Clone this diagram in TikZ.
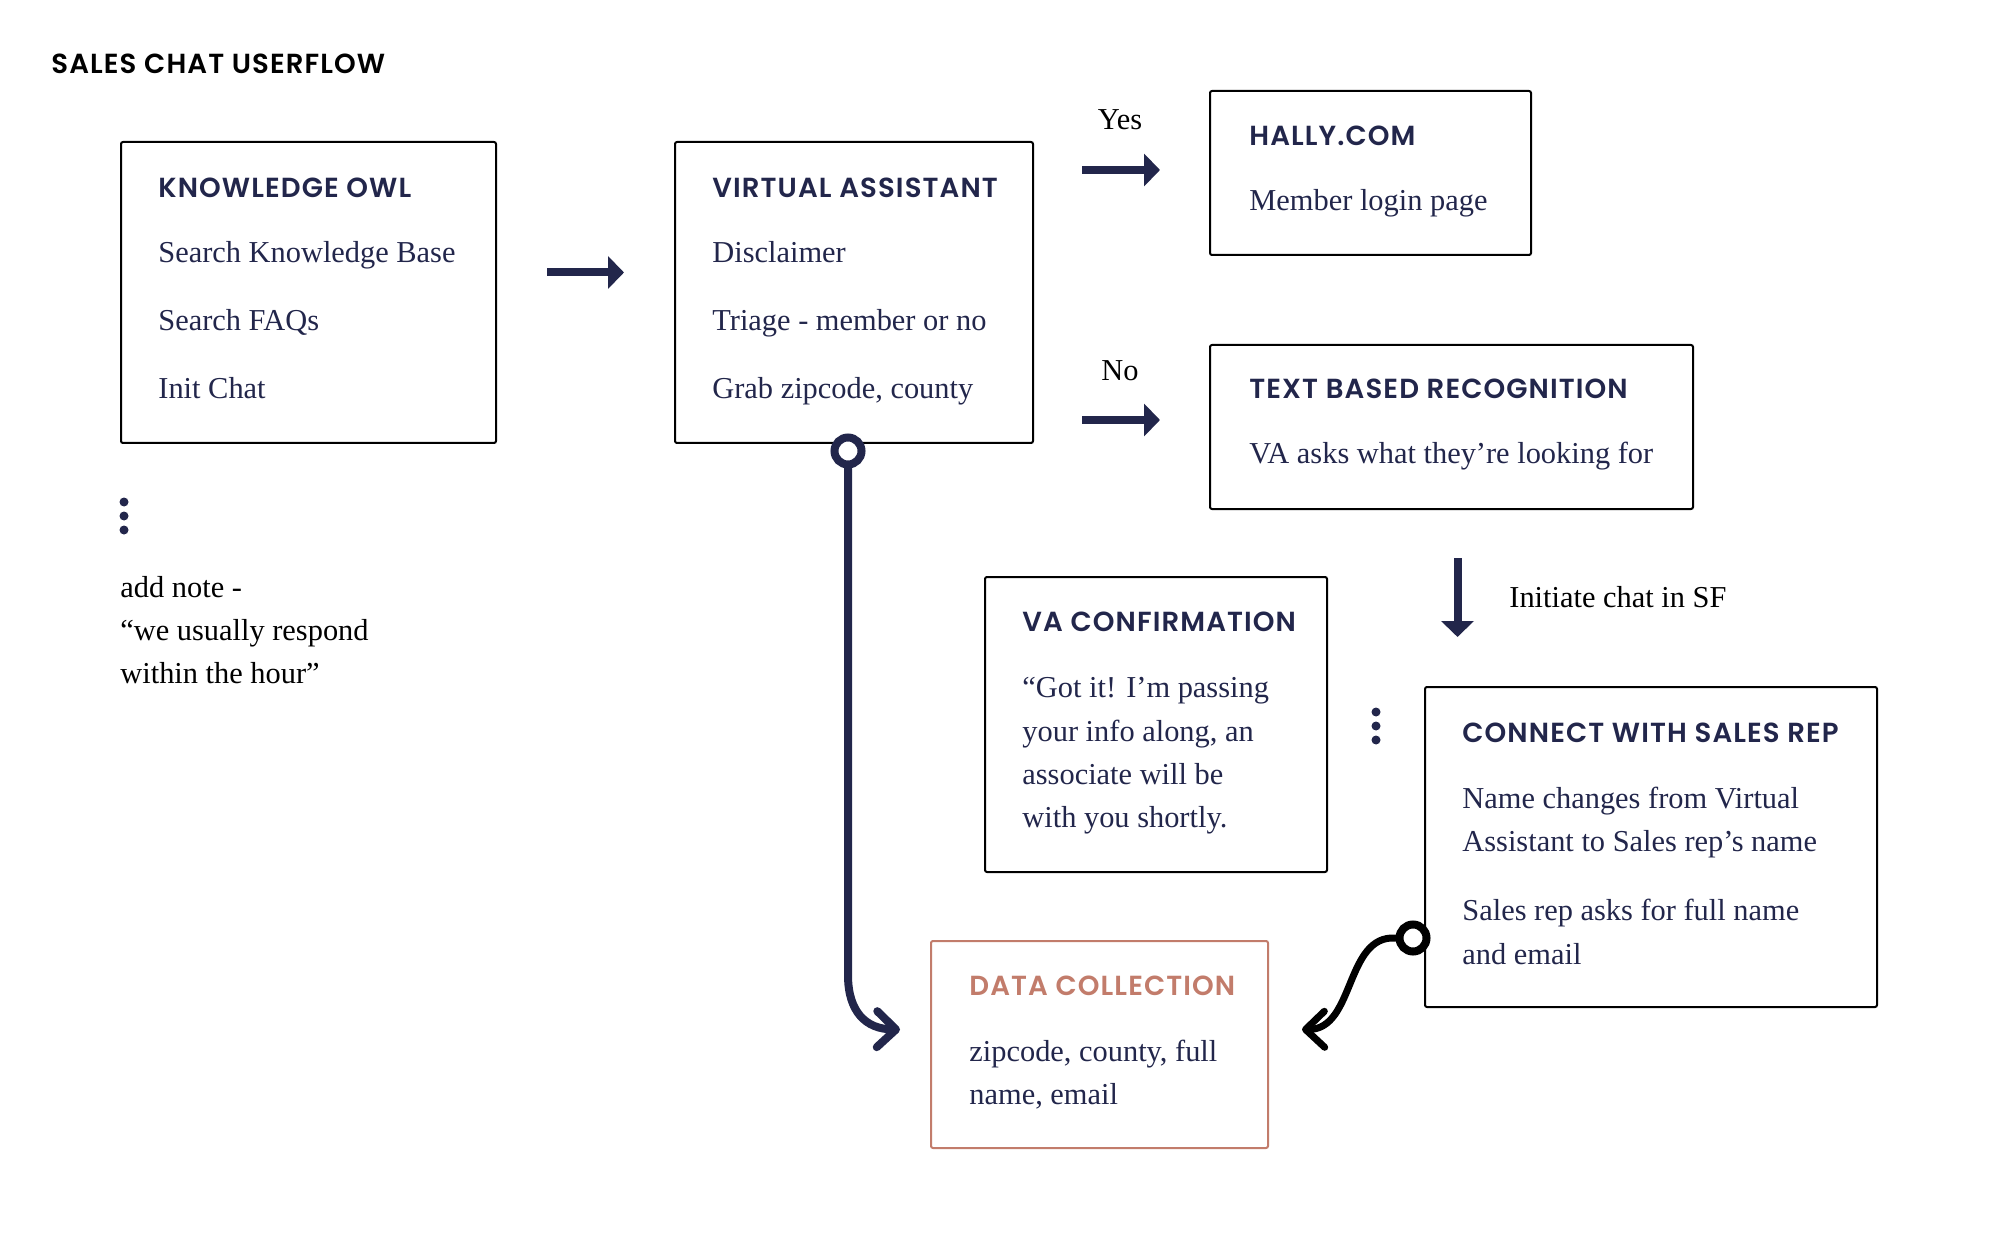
\documentclass[tikz,border=0pt]{standalone}
\usepackage{fontspec}
\setmainfont{Liberation Serif}
\newfontfamily\headfont{Poppins}[UprightFont={* SemiBold},LetterSpace=4]
\usetikzlibrary{arrows.meta,fit,calc}
\definecolor{navy}{HTML}{22264B}
\definecolor{salmon}{HTML}{C27C6B}
\tikzset{
  box/.style={draw=black,line width=1pt,rounded corners=1pt,inner sep=0pt},
  head/.style={inner sep=0pt,anchor=base west,text=navy,font=\headfont\fontsize{13.8pt}{16pt}\selectfont},
  txt/.style={inner sep=0pt,anchor=base west,text=navy,font=\fontsize{15.2pt}{18pt}\selectfont},
  note/.style={txt,text=black},
  fatarrow/.style={-{Triangle[width=16pt,length=8pt]},line width=4pt,draw=navy},
  ring/.style={circle,draw=navy,line width=4pt,fill=white,minimum size=13.5pt,inner sep=0pt},
  hook/.style={-{Straight Barb[width=18pt,length=9.5pt,round]},line width=4pt,line cap=round,draw=navy},
}
\begin{document}
\begin{tikzpicture}[x=0.5pt,y=-0.5pt]
  \useasboundingbox (0,0) rectangle (2000,1240);

  \node[head,text=black] (title) at (51,74) {SALES CHAT USERFLOW};

  % knowledge owl
  \node[box,fit={(121,142) (496,443)}] (ko) {};
  \node[head] (kohead) at (158,198) {KNOWLEDGE OWL};
  \node[txt] (ko1) at (158,263) {Search Knowledge Base};
  \node[txt] (ko2) at (158,331) {Search FAQs};
  \node[txt] (ko3) at (158,399) {Init Chat};

  \foreach \y in {502,516,530} \fill[navy] (124,\y) circle (2.25pt);
  \node[note] (note1) at (120,597) {add note -};
  \node[note] (note2) at (120,640) {“we usually respond};
  \node[note] (note3) at (120,683) {within the hour”};

  % virtual assistant
  \node[box,fit={(675,142) (1033,443)}] (va) {};
  \node[head] (vahead) at (712,198) {VIRTUAL ASSISTANT};
  \node[txt] (va1) at (712,263) {Disclaimer};
  \node[txt] (va2) at (712,331) {Triage - member or no};
  \node[txt] (va3) at (712,399) {Grab zipcode, county};
  \draw[fatarrow] ($(ko.east)+(50,-20)$) -- ($(va.west)+(-50,-20)$);

  % hally.com
  \node[box,fit={(1210,91) (1531,255)}] (hally) {};
  \node[head] (hallyhead) at (1249,146) {HALLY.COM};
  \node[txt] (hally1) at (1249,211) {Member login page};

  % text based recognition
  \node[box,fit={(1210,345) (1693,509)}] (tbr) {};
  \node[head] (tbrhead) at (1249,399) {TEXT BASED RECOGNITION};
  \node[txt] (tbr1) at (1249,464) {VA asks what they’re looking for};

  \coordinate (yesfrom) at (1082,170);
  \coordinate (nofrom) at (1082,420);
  \draw[fatarrow] (yesfrom) -- ($(hally.west |- yesfrom)+(-49,0)$);
  \draw[fatarrow] (nofrom) -- ($(tbr.west |- nofrom)+(-49,0)$);
  \node[note,anchor=base] (yes) at (1120,130) {Yes};
  \node[note,anchor=base] (no) at (1120,381) {No};

  \draw[fatarrow] ($(tbr.south)+(6,48)$) -- ++(0,79);
  \node[note] (initiate) at (1509,607) {Initiate chat in SF};

  % va confirmation
  \node[box,fit={(985,577) (1327,872)}] (vaconf) {};
  \node[head] (vaconfhead) at (1022,631) {VA CONFIRMATION};
  \node[txt] (vaconf1) at (1022,697) {“Got it! I’m passing};
  \node[txt] (vaconf2) at (1022,741) {your info along, an};
  \node[txt] (vaconf3) at (1022,784) {associate will be};
  \node[txt] (vaconf4) at (1022,827) {with you shortly.};

  \foreach \y in {712,726,740} \fill[navy] (1376,\y) circle (2.25pt);

  % connect with sales rep
  \node[ring,draw=black] (cwsout) at (1413,938) {};
  \node[box,fit={(1425,687) (1877,1007)}] (cws) {};
  \node[head] (cwshead) at (1462,742) {CONNECT WITH SALES REP};
  \node[txt] (cws1) at (1462,808) {Name changes from Virtual};
  \node[txt] (cws2) at (1462,851) {Assistant to Sales rep’s name};
  \node[txt] (cws3) at (1462,920) {Sales rep asks for full name};
  \node[txt] (cws4) at (1462,964) {and email};

  % data collection
  \node[box,draw=salmon,fit={(931,941) (1268,1148)}] (dc) {};
  \node[head,text=salmon] (dchead) at (969,995) {DATA COLLECTION};
  \node[txt] (dc1) at (969,1061) {zipcode, county, full};
  \node[txt] (dc2) at (969,1104) {name, email};

  \coordinate (dcleft) at ($(dc.west)+(-30,-15)$);
  \coordinate (dcright) at ($(dc.east)+(33,-15)$);
  \node[ring] (vaout) at (848,451) {};
  \draw[hook] (vaout.south) -- (848,975) .. controls (848,1012) and (866,1029) .. (dcleft);
  \draw[hook,draw=black,line width=3.5pt] (cwsout.west) .. controls (1345,935) and (1355,1029) .. (dcright);
\end{tikzpicture}
\end{document}
